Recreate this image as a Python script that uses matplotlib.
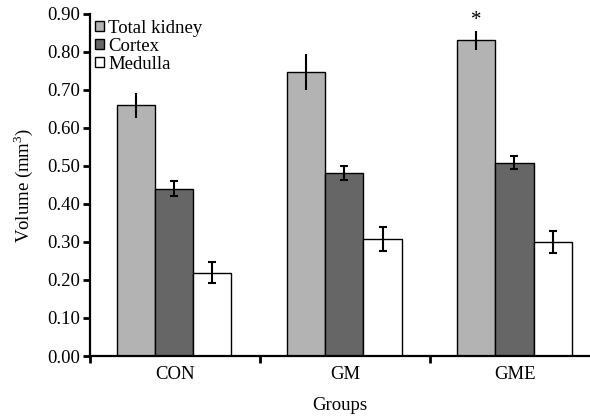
import numpy as np
import matplotlib
matplotlib.use('Agg')
from matplotlib import pyplot as plt

groups = ['CON', 'GM', 'GME']
series = ['Total kidney', 'Cortex', 'Medulla']
total = [0.66, 0.748, 0.831]
total_err = [0.033, 0.047, 0.025]
cortex = [0.44, 0.482, 0.509]
cortex_err = [0.02, 0.018, 0.017]
medulla = [0.219, 0.308, 0.30]
medulla_err = [0.028, 0.031, 0.029]

plt.rcParams['font.family'] = ['Liberation Serif']
plt.rcParams['mathtext.fontset'] = 'custom'
plt.rcParams['mathtext.rm'] = 'Liberation Serif'

fs = 13.5
fig = plt.figure(figsize=(5.9, 4.19), dpi=100)
ax = fig.add_axes([90 / 590., 1 - 356 / 419., 500 / 590., 342 / 419.])

x = np.arange(len(groups))
w = 0.224
colors = ['#b3b3b3', '#666666', '#ffffff']
vals = [total, cortex, medulla]
errs = [total_err, cortex_err, medulla_err]
offs = [-0.228, -0.004, 0.22]
caps = [0, 3, 3]
for v, e, c, o, cap, name in zip(vals, errs, colors, offs, caps, series):
    ax.bar(x + o, v, w, color=c, edgecolor='black', linewidth=1.0, label=name, zorder=2)
    ax.errorbar(x + o, v, yerr=e, fmt='none', ecolor='black', elinewidth=1.5,
                capsize=cap, capthick=1.5, zorder=3)

# significance mark
ax.text(x[2] + offs[0], total[2] + total_err[2] + 0.002, '*', ha='center', va='bottom', fontsize=15)

ax.set_xlim(-0.5, 2.44)
ax.set_ylim(0, 0.9)
ax.set_yticks(np.arange(0, 0.91, 0.1))
ax.set_yticklabels(['%.2f' % t for t in np.arange(0, 0.91, 0.1)], fontsize=fs)
ax.set_xticks(x)
ax.set_xticklabels(groups, fontsize=fs)
ax.set_xticks([-0.5, 0.5, 1.5], minor=True)
ax.tick_params(axis='x', which='major', length=0, pad=7)
ax.tick_params(axis='x', which='minor', length=5, width=2, direction='out')
ax.tick_params(axis='y', length=5, width=2, direction='out', pad=2)

for s in ['top', 'right']:
    ax.spines[s].set_visible(False)
ax.spines['left'].set_linewidth(1.6)
ax.spines['bottom'].set_linewidth(1.6)

ax.set_xlabel('Groups', fontsize=fs, labelpad=10)
ax.set_ylabel('Volume (mm$^3$)', fontsize=fs, labelpad=9)

ax.legend(loc='upper left', bbox_to_anchor=(-0.005, 1.005), frameon=False, fontsize=fs,
          handlelength=0.5, handleheight=0.5, handletextpad=0.2, labelspacing=0.05,
          borderaxespad=0)

fig.savefig('out.png', dpi=100)
